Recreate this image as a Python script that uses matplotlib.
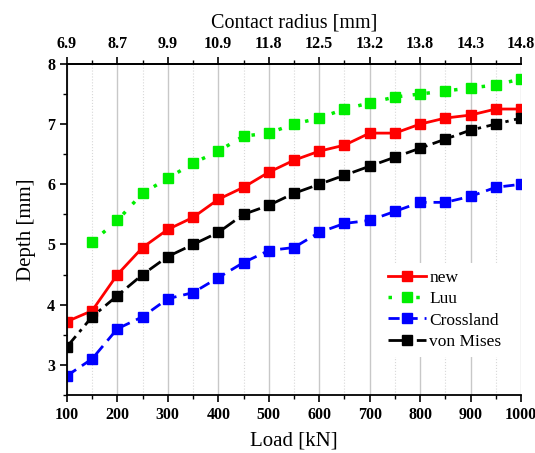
import matplotlib

matplotlib.use("Agg")

import matplotlib.pyplot as plt
from matplotlib.ticker import MultipleLocator, FixedLocator

plt.rcParams["font.family"] = ["Liberation Serif", "DejaVu Serif"]

load = [100, 150, 200, 250, 300, 350, 400, 450, 500, 550,
        600, 650, 700, 750, 800, 850, 900, 950, 1000]
new = [3.72, 3.9, 4.5, 4.95, 5.25, 5.45, 5.75, 5.95, 6.2, 6.4,
       6.55, 6.65, 6.85, 6.85, 7.0, 7.1, 7.15, 7.25, 7.25]
luu_load = load[1:]
luu = [5.04, 5.4, 5.85, 6.1, 6.35, 6.55, 6.8, 6.85, 7.0,
       7.1, 7.25, 7.35, 7.45, 7.5, 7.55, 7.6, 7.65, 7.75]
crossland = [2.82, 3.1, 3.6, 3.8, 4.1, 4.2, 4.45, 4.7, 4.9, 4.95,
             5.2, 5.35, 5.4, 5.55, 5.7, 5.7, 5.8, 5.95, 6.0]
von_mises = [3.3, 3.8, 4.15, 4.5, 4.8, 5.0, 5.2, 5.5, 5.65, 5.85,
             6.0, 6.15, 6.3, 6.45, 6.6, 6.75, 6.9, 7.0, 7.1]

top_ticks = [100, 200, 300, 400, 500, 600, 700, 800, 900, 1000]
top_labels = ["6.9", "8.7", "9.9", "10.9", "11.8", "12.5", "13.2", "13.8", "14.3", "14.8"]

fig = plt.figure(figsize=(5.35, 4.53), dpi=100)
ax = fig.add_axes([0.125, 0.128, 0.849, 0.731])

ms = 7
ax.plot(load, new, color="red", lw=2, marker="s", ms=ms, label="new")
ax.plot(luu_load, luu, color="#00ee00", lw=2.5, ls=(0, (1, 3)), marker="s", ms=ms, label="Luu")
ax.plot(load, crossland, color="blue", lw=2, ls=(0, (4, 2.5)), marker="s", ms=ms, label="Crossland")
ax.plot(load, von_mises, color="black", lw=2, ls=(0, (5, 2, 1.2, 2)), marker="s", ms=ms, label="von Mises")

ax.set_xlim(100, 1000)
ax.set_ylim(2.5, 8)
ax.xaxis.set_major_locator(MultipleLocator(100))
ax.xaxis.set_minor_locator(MultipleLocator(50))
ax.yaxis.set_major_locator(MultipleLocator(1))
ax.yaxis.set_minor_locator(MultipleLocator(0.5))
ax.grid(which="major", axis="x", color="#c8c8c8", lw=1)
ax.grid(which="minor", axis="x", color="#d8d8d8", lw=0.8, ls=":")
ax.set_axisbelow(True)

ax.spines["right"].set_visible(False)
ax.spines["left"].set_linewidth(1.3)
ax.spines["bottom"].set_linewidth(1.3)
ax.spines["top"].set_linewidth(1.3)

ax.tick_params(which="major", direction="out", length=5, width=1.2, labelsize=11.5)
ax.tick_params(which="minor", direction="out", length=3, width=1.0)
for lab in ax.get_xticklabels() + ax.get_yticklabels():
    lab.set_fontweight("bold")

ax.set_xlabel("Load [kN]", fontsize=15, labelpad=6)
ax.set_ylabel("Depth [mm]", fontsize=15, labelpad=8)

top = ax.twiny()
top.set_xlim(ax.get_xlim())
top.xaxis.set_major_locator(FixedLocator(top_ticks))
top.xaxis.set_minor_locator(MultipleLocator(50))
top.set_xticklabels(top_labels, fontweight="bold", fontsize=11.5)
top.tick_params(which="major", direction="out", length=5, width=1.2)
top.tick_params(which="minor", direction="out", length=3, width=1.0)
for side in ("right", "left", "bottom"):
    top.spines[side].set_visible(False)
top.spines["top"].set_linewidth(1.3)
top.set_xlabel("Contact radius [mm]", fontsize=14.5, labelpad=6)

leg = ax.legend(loc="upper right", bbox_to_anchor=(0.98, 0.41), frameon=True,
                fontsize=12.5, handlelength=2.2, handletextpad=0.2, labelspacing=0.3,
                borderaxespad=0.2, fancybox=False, framealpha=1)
leg.get_frame().set_edgecolor("none")

fig.savefig("out.png", dpi=100)
